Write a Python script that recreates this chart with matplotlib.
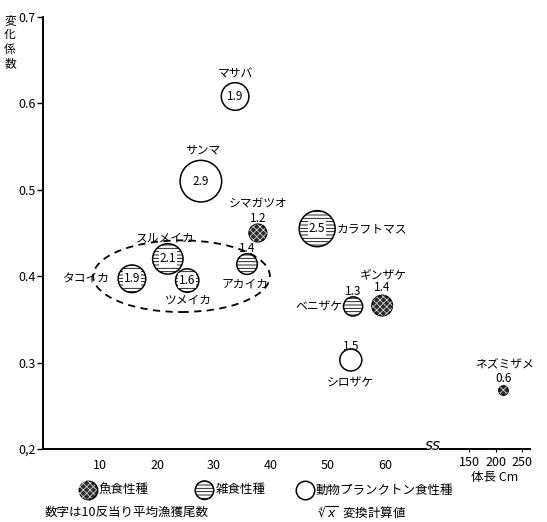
import numpy as np
import matplotlib
matplotlib.use("Agg")
import matplotlib.pyplot as plt
from matplotlib.patches import Ellipse

plt.rcParams['font.family'] = ['Noto Sans CJK JP', 'DejaVu Sans']
plt.rcParams['hatch.linewidth'] = 0.6

# %% Data
species  = ["マサバ", "サンマ", "シマガツオ", "カラフトマス", "スルメイカ", "タコイカ",
            "ツメイカ", "アカイカ", "ベニザケ", "ギンザケ", "シロザケ", "ネズミザメ"]
body_len = [33.7, 27.7, 37.7, 48.1, 21.9, 15.6, 25.3, 35.8, 54.4, 59.5, 54.0, 215.0]
cv       = [0.608, 0.510, 0.450, 0.455, 0.420, 0.397, 0.395, 0.414, 0.365, 0.366, 0.303, 0.268]
catch    = [1.9, 2.9, 1.2, 2.5, 2.1, 1.9, 1.6, 1.4, 1.3, 1.4, 1.5, 0.6]
diet     = ["plankton", "plankton", "fish", "omni", "omni", "omni",
            "omni", "omni", "omni", "fish", "plankton", "fish"]

y_ticks       = [0.2, 0.3, 0.4, 0.5, 0.6, 0.7]
y_tick_labels = ["0,2", "0.3", "0.4", "0.5", "0.6", "0.7"]
x_ticks_left  = [10, 20, 30, 40, 50, 60]
x_ticks_right = [150, 200, 250]

diet_order  = ["fish", "omni", "plankton"]
diet_labels = {"fish": "魚食性種", "omni": "雑食性種", "plankton": "動物プランクトン食性種"}

# label layout: (name dx, name dy, name ha, number inside?, number dy) in pixels
layout = {
    "マサバ":     (0, 23, "center", True, 0),
    "サンマ":     (2, 31, "center", True, 0),
    "シマガツオ": (0, 29, "center", False, 15),
    "カラフトマス": (20, 0, "left", True, 0),
    "スルメイカ": (-3, 21, "center", True, 0),
    "タコイカ":   (-22, 0, "right", True, 0),
    "ツメイカ":   (1, -20, "center", True, 0),
    "アカイカ":   (-2, -20, "center", False, 16),
    "ベニザケ":   (-11, 0, "right", False, 15),
    "ギンザケ":   (1, 31, "center", False, 18),
    "シロザケ":   (-1, -23, "center", False, 14),
    "ネズミザメ": (1, 25, "center", False, 12),
}

W, H = 547, 522
fig = plt.figure(figsize=(W / 100, H / 100), dpi=100)
y0, y1 = 449, 17
ax  = fig.add_axes([43 / W, 1 - y0 / H, (426 - 43) / W, (y0 - y1) / H])
ax2 = fig.add_axes([440 / W, 1 - y0 / H, (530 - 440) / W, (y0 - y1) / H], sharey=ax)

ax.set_xlim(0, (426 - 43) / 5.7)
ax2.set_xlim(150 - 29 / 0.53, 150 + 61 / 0.53)
ax.set_ylim(0.2, 0.7)


def size_of(v):
    r_px = 7 * v + 0.5
    return (2 * r_px * 0.72) ** 2


def draw_points(a, xs, ys, ss, kind):
    if kind == "fish":
        h1 = a.scatter(xs, ys, s=ss, facecolor="#2b2b2b", edgecolor="black", linewidths=1, zorder=3)
        h2 = a.scatter(xs, ys, s=ss, facecolor="none", edgecolor="#d0d0d0", hatch="xxxxx",
                       linewidths=0, zorder=4)
        return (h1, h2)
    if kind == "omni":
        return a.scatter(xs, ys, s=ss, facecolor="white", edgecolor="black", hatch="-----",
                         linewidths=1.1, zorder=3)
    return a.scatter(xs, ys, s=ss, facecolor="white", edgecolor="black", linewidths=1.1, zorder=3)


for kind in diet_order:
    for a, far in [(ax, False), (ax2, True)]:
        idx = [i for i in range(len(species)) if diet[i] == kind and (body_len[i] > 100) == far]
        if idx:
            draw_points(a, [body_len[i] for i in idx], [cv[i] for i in idx],
                        [size_of(catch[i]) for i in idx], kind)

for i, name in enumerate(species):
    a = ax2 if body_len[i] > 100 else ax
    dx, dy, ha, inside, ndy = layout[name]
    a.annotate(name, (body_len[i], cv[i]), xytext=(dx, dy), textcoords="offset pixels",
               ha=ha, va="center", fontsize=8.5, annotation_clip=False)
    if inside:
        a.annotate(f"{catch[i]}", (body_len[i], cv[i]), xytext=(0, 0), textcoords="offset pixels",
                   ha="center", va="center", fontsize=8.5, zorder=5,
                   bbox=dict(boxstyle="square,pad=0.08", facecolor="white", edgecolor="none"))
    else:
        a.annotate(f"{catch[i]}", (body_len[i], cv[i]), xytext=(0, ndy), textcoords="offset pixels",
                   ha="center", va="center", fontsize=8.5, annotation_clip=False)

# dashed group outline around the squids
ax.add_patch(Ellipse((24.3, 0.400), 31.0, 0.083, fill=False, linestyle=(0, (4, 3)),
                     linewidth=1.3, edgecolor="black", zorder=2))

# axes styling
for a in (ax, ax2):
    a.spines["top"].set_visible(False)
    a.spines["right"].set_visible(False)
    a.spines["bottom"].set_linewidth(1.4)
ax.spines["left"].set_linewidth(1.4)
ax2.spines["left"].set_visible(False)

ax.set_yticks(y_ticks)
ax.set_yticklabels(y_tick_labels, fontsize=9)
ax.tick_params(axis="y", length=4, width=1, pad=1)
ax2.tick_params(axis="y", left=False, labelleft=False)

ax.set_xticks(x_ticks_left)
ax.set_xticklabels([str(t) for t in x_ticks_left], fontsize=9)
ax.tick_params(axis="x", length=0, pad=7)
ax2.set_xticks(x_ticks_right)
ax2.set_xticklabels([str(t) for t in x_ticks_right], fontsize=9)
ax2.tick_params(axis="x", length=2, pad=3)

# axis break mark and labels
fig.text(433 / W, 1 - 446 / H, "ss", fontsize=11, style="italic", ha="center", va="center",
         family="DejaVu Sans")
fig.text(495 / W, 1 - 478 / H, "体長 Cm", fontsize=9, ha="center", va="center")
fig.text(10 / W, 1 - 42 / H, "変\n化\n係\n数", fontsize=8.5, ha="center", va="center",
         linespacing=1.15)

# legend, one entry per diet type
legend_x = {"fish": 80, "omni": 197, "plankton": 297}
for kind in diet_order:
    h = draw_points(ax, [], [], [size_of(1.25)], kind)
    fig.legend([h], [diet_labels[kind]], loc="center left",
               bbox_to_anchor=(legend_x[kind] / W, 1 - 490 / H), frameon=False,
               fontsize=9, handletextpad=0.3, handlelength=1.2, borderpad=0, borderaxespad=0)

fig.text(45 / W, 1 - 512 / H, "数字は10反当り平均漁獲尾数", fontsize=9, va="center")
fig.text(318 / W, 1 - 512 / H, r"$\sqrt[4]{x}$  変換計算値", fontsize=9, va="center")

fig.savefig("out.png", dpi=100)
